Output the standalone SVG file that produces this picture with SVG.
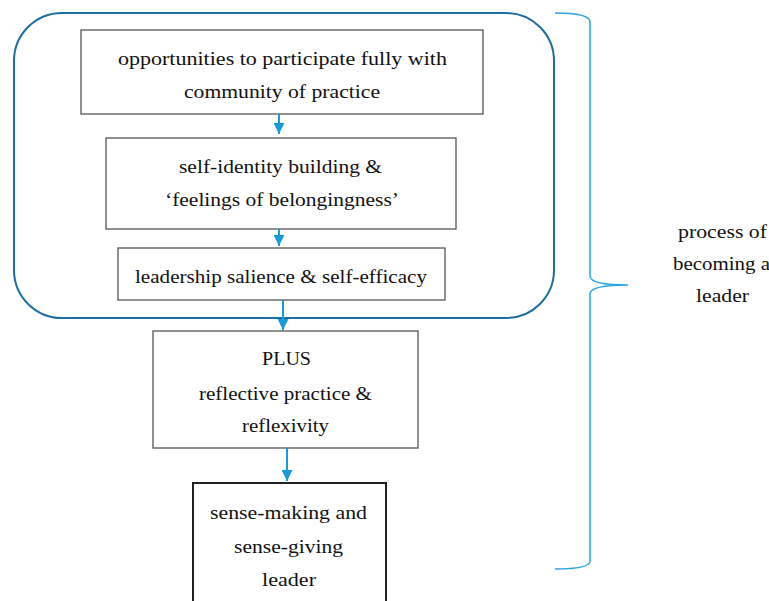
<svg xmlns="http://www.w3.org/2000/svg" width="769" height="601" viewBox="0 0 769 601">
<defs>
<style>
.t{font-family:"Liberation Serif","Times New Roman",serif;font-size:19px;fill:#111;text-anchor:middle}
.s{text-anchor:start}
.box{fill:#fff;stroke:#555;stroke-width:1.3}
.c{stroke:#1a9ad6;stroke-width:2;fill:none}
</style>
<marker id="ah" viewBox="0 0 10 10" refX="10" refY="5" markerWidth="5.5" markerHeight="5.5" markerUnits="strokeWidth" orient="auto">
<path d="M0,0 L10,5 L0,10 z" fill="#1a9ad6"/>
</marker>
</defs>
<rect width="769" height="601" fill="#fff"/>
<g id="container">
<rect x="14" y="13" width="540" height="305" rx="48" ry="48" fill="none" stroke="#1d6e9e" stroke-width="2"/>
</g>
<g id="n1">
<rect class="box" x="81" y="30" width="402" height="84"/>
<text class="t" x="282.5" y="65" textLength="329" lengthAdjust="spacingAndGlyphs">opportunities to participate fully with</text>
<text class="t" x="282" y="98" textLength="196" lengthAdjust="spacingAndGlyphs">community of practice</text>
</g>
<g id="n2">
<rect class="box" x="106" y="138" width="350" height="91"/>
<text class="t" x="280.5" y="173" textLength="203" lengthAdjust="spacingAndGlyphs">self-identity building &amp;</text>
<text class="t" x="282" y="206" textLength="234" lengthAdjust="spacingAndGlyphs">‘feelings of belongingness’</text>
</g>
<g id="n3">
<rect class="box" x="118" y="248" width="327" height="52"/>
<text class="t" x="281" y="283" textLength="292" lengthAdjust="spacingAndGlyphs">leadership salience &amp; self-efficacy</text>
</g>
<g id="n4">
<rect class="box" x="153" y="331" width="265" height="117"/>
<text class="t" x="286.5" y="365" textLength="49" lengthAdjust="spacingAndGlyphs">PLUS</text>
<text class="t" x="285.5" y="400" textLength="173" lengthAdjust="spacingAndGlyphs">reflective practice &amp;</text>
<text class="t" x="285.5" y="432" textLength="87" lengthAdjust="spacingAndGlyphs">reflexivity</text>
</g>
<g id="n5">
<rect x="193" y="483" width="193" height="130" fill="#fff" stroke="#222" stroke-width="2"/>
<text class="t" x="288.5" y="519" textLength="157" lengthAdjust="spacingAndGlyphs">sense-making and</text>
<text class="t" x="288.5" y="553" textLength="109" lengthAdjust="spacingAndGlyphs">sense-giving</text>
<text class="t" x="289" y="586" textLength="54" lengthAdjust="spacingAndGlyphs">leader</text>
</g>
<g id="brace">
<path d="M555,13 Q590,13 590,22 L590,276 Q590,285 628,285 Q590,285 590,294 L590,561 Q590,569 555,569" fill="none" stroke="#2aa3e0" stroke-width="1.5"/>
<text class="t s" x="678" y="238" textLength="89" lengthAdjust="spacingAndGlyphs">process of</text>
<text class="t s" x="673" y="270" textLength="97" lengthAdjust="spacingAndGlyphs">becoming a</text>
<text class="t s" x="696" y="302" textLength="53" lengthAdjust="spacingAndGlyphs">leader</text>
</g>
<g id="connectors">
<line class="c" x1="279" y1="114" x2="279" y2="134" marker-end="url(#ah)"/>
<line class="c" x1="279" y1="229" x2="279" y2="246" marker-end="url(#ah)"/>
<line class="c" x1="283" y1="300" x2="283" y2="330" marker-end="url(#ah)"/>
<line class="c" x1="287" y1="448" x2="287" y2="481" marker-end="url(#ah)"/>
</g>
</svg>
